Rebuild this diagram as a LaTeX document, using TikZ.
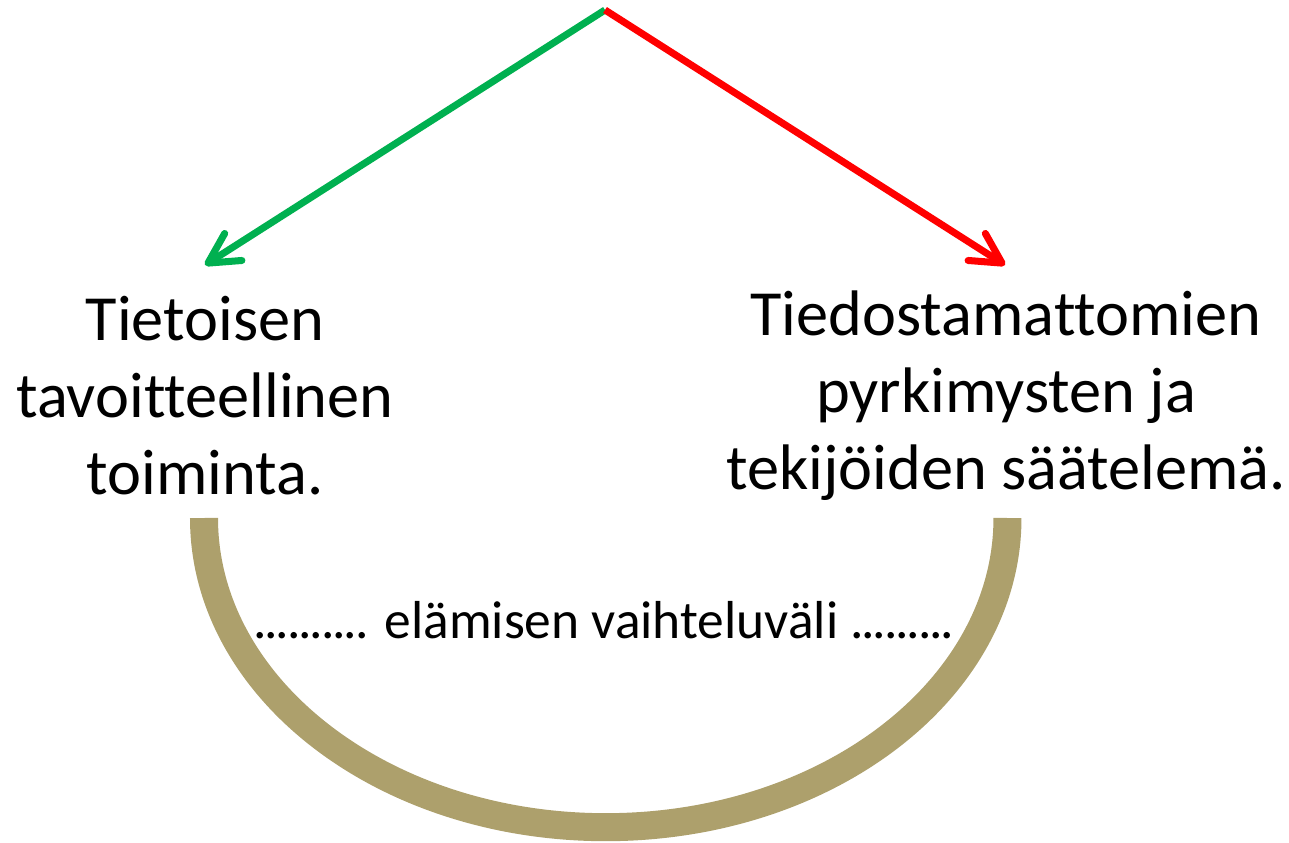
\documentclass[tikz,border=0pt]{standalone}
\usepackage{fontspec}
\setmainfont{Carlito}[Ligatures=NoCommon]
\usetikzlibrary{arrows.meta, positioning}
\definecolor{pptgreen}{RGB}{0,176,80}
\definecolor{pptred}{RGB}{255,0,0}
\definecolor{khaki}{RGB}{173,160,108}
\newcommand{\tightdots}[1]{{\addfontfeature{LetterSpace=-4}#1}}

\begin{document}
\begin{tikzpicture}[x=0.01cm,y=0.01cm]
\tikzstyle{every node}=[inner sep=0pt]
\tikzstyle{label text}=[align=center, font=\fontsize{18.3pt}{21.9pt}\selectfont]
\tikzstyle{branch}=[line width=2pt, -{Straight Barb[length=0.3cm,width=0.32cm,round]}]
\useasboundingbox (0,0) rectangle (1289,842);

\coordinate (top) at (605,832);
\coordinate (lefttip) at (205,577);
\coordinate (righttip) at (1005,577);

\node[label text] (conscious) at (205,446) {Tietoisen\\tavoitteellinen\\toiminta.};
\node[label text] (unconscious) at (1006,446) {Tiedostamattomien\\pyrkimysten ja\\tekijöiden säätelemä.};

\draw[branch, pptgreen] (top) -- (lefttip);
\draw[branch, pptred] (top) -- (righttip);

% range of living
\draw[khaki, line width=0.28cm] (204,324) arc[start angle=180, end angle=360, x radius=4.015cm, y radius=3.09cm];
\node[font=\fontsize{15.2pt}{18pt}\selectfont, anchor=base] (range) at (604,204) {\tightdots{..........} elämisen vaihteluväli \tightdots{.........}};
\end{tikzpicture}
\end{document}
